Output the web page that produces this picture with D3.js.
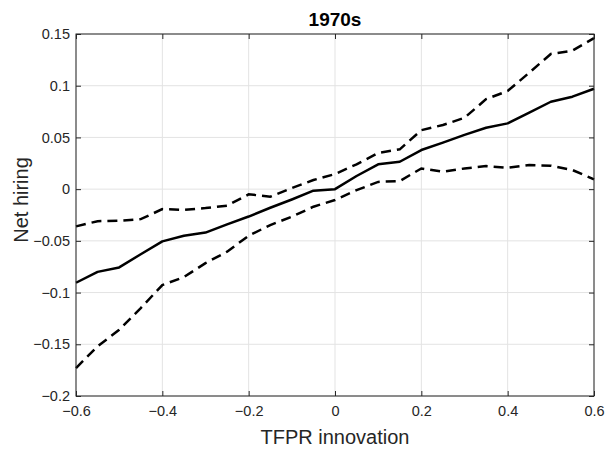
<!DOCTYPE html>
<html lang="en">
<head>
  <meta charset="UTF-8">
  <title>1970s</title>
  <script src="https://cdn.jsdelivr.net/npm/d3@7"></script>
  <style>
    body { margin: 0; background: #fff; }
    text { font-family: "Liberation Sans", Arial, Helvetica, sans-serif; }
  </style>
</head>
<body>
  <svg width="607" height="449" id="main"></svg>
<script>
  // data
  const xs = [-0.6, -0.55, -0.5, -0.45, -0.4, -0.35, -0.3, -0.25, -0.2, -0.15, -0.1, -0.05, 0,
              0.05, 0.1, 0.15, 0.2, 0.25, 0.3, 0.35, 0.4, 0.45, 0.5, 0.55, 0.6];
  const estimate = [-0.0905, -0.080, -0.0757, -0.063, -0.0505, -0.045, -0.042, -0.034, -0.0265, -0.018, -0.010, -0.0015, 0.000,
                    0.0127, 0.024, 0.0265, 0.0378, 0.045, 0.0525, 0.0594, 0.0636, 0.0739, 0.0845, 0.0894, 0.0971];
  const upper = [-0.036, -0.031, -0.0305, -0.029, -0.0193, -0.020, -0.0183, -0.016, -0.005, -0.0073, 0.001, 0.0088, 0.0146,
                 0.024, 0.035, 0.0385, 0.057, 0.062, 0.069, 0.087, 0.0949, 0.1126, 0.1307, 0.1339, 0.146];
  const lower = [-0.173, -0.152, -0.136, -0.115, -0.0927, -0.085, -0.0715, -0.0605, -0.045, -0.0347, -0.0267, -0.017, -0.0105,
                 -0.001, 0.007, 0.0078, 0.020, 0.0168, 0.020, 0.0223, 0.0207, 0.0233, 0.0227, 0.0185, 0.0095];
  const xTicks = [-0.6, -0.4, -0.2, 0, 0.2, 0.4, 0.6];
  const yTicks = [-0.2, -0.15, -0.1, -0.05, 0, 0.05, 0.1, 0.15];

  const svg = d3.select('#main');
  const m = {left: 76, right: 594, top: 34, bottom: 396};
  const axisColor = '#262626';

  const x = d3.scaleLinear().domain([-0.6, 0.6]).range([m.left, m.right]);
  const y = d3.scaleLinear().domain([-0.2, 0.15]).range([m.bottom, m.top]);

  // grid
  const grid = svg.append('g');
  grid.selectAll('.gx').data(xTicks).enter().append('line')
    .attr('x1', d => x(d)).attr('x2', d => x(d))
    .attr('y1', m.top).attr('y2', m.bottom)
    .attr('stroke', '#e3e3e3').attr('stroke-width', 1);
  grid.selectAll('.gy').data(yTicks).enter().append('line')
    .attr('y1', d => y(d)).attr('y2', d => y(d))
    .attr('x1', m.left).attr('x2', m.right)
    .attr('stroke', '#e3e3e3').attr('stroke-width', 1);

  // lines
  const line = d3.line().x((d, i) => x(xs[i])).y(d => y(d));
  const plot = svg.append('g');
  plot.append('path').datum(upper).attr('d', line)
    .attr('fill', 'none').attr('stroke', '#000').attr('stroke-width', 2.5)
    .attr('stroke-dasharray', '10,6');
  plot.append('path').datum(lower).attr('d', line)
    .attr('fill', 'none').attr('stroke', '#000').attr('stroke-width', 2.5)
    .attr('stroke-dasharray', '10,6');
  plot.append('path').datum(estimate).attr('d', line)
    .attr('fill', 'none').attr('stroke', '#000').attr('stroke-width', 2.5)
    .attr('stroke-linejoin', 'round');

  // axes (ticks inside, box on)
  const fmt = d => d3.format('')(+d.toFixed(2));
  const styleAxis = g => {
    g.select('.domain').remove();
    g.selectAll('.tick line').attr('stroke', axisColor);
    g.selectAll('.tick text').attr('fill', axisColor).attr('font-size', 14.5)
      .attr('font-family', '"Liberation Sans", Arial, sans-serif');
  };
  svg.append('g').attr('transform', `translate(0,${m.bottom})`)
    .call(d3.axisBottom(x).tickValues(xTicks).tickFormat(fmt).tickSizeInner(-5).tickSizeOuter(0).tickPadding(10))
    .call(styleAxis);
  svg.append('g').attr('transform', `translate(0,${m.top})`)
    .call(d3.axisTop(x).tickValues(xTicks).tickFormat('').tickSizeInner(-5).tickSizeOuter(0))
    .call(styleAxis);
  svg.append('g').attr('transform', `translate(${m.left},0)`)
    .call(d3.axisLeft(y).tickValues(yTicks).tickFormat(fmt).tickSizeInner(-5).tickSizeOuter(0).tickPadding(6))
    .call(styleAxis);
  svg.append('g').attr('transform', `translate(${m.right},0)`)
    .call(d3.axisRight(y).tickValues(yTicks).tickFormat('').tickSizeInner(-5).tickSizeOuter(0))
    .call(styleAxis);

  svg.append('rect')
    .attr('x', m.left).attr('y', m.top)
    .attr('width', m.right - m.left).attr('height', m.bottom - m.top)
    .attr('fill', 'none').attr('stroke', axisColor).attr('stroke-width', 1);

  // labels
  svg.append('text').text('1970s')
    .attr('x', (m.left + m.right) / 2).attr('y', 26)
    .attr('text-anchor', 'middle').attr('font-size', 19).attr('font-weight', 'bold')
    .attr('fill', '#000');
  svg.append('text').text('TFPR innovation')
    .attr('x', (m.left + m.right) / 2).attr('y', 444)
    .attr('text-anchor', 'middle').attr('font-size', 20).attr('fill', axisColor);
  svg.append('text').text('Net hiring')
    .attr('transform', `translate(28,200) rotate(-90)`)
    .attr('text-anchor', 'middle').attr('font-size', 20).attr('fill', axisColor);
</script>
</body>
</html>
